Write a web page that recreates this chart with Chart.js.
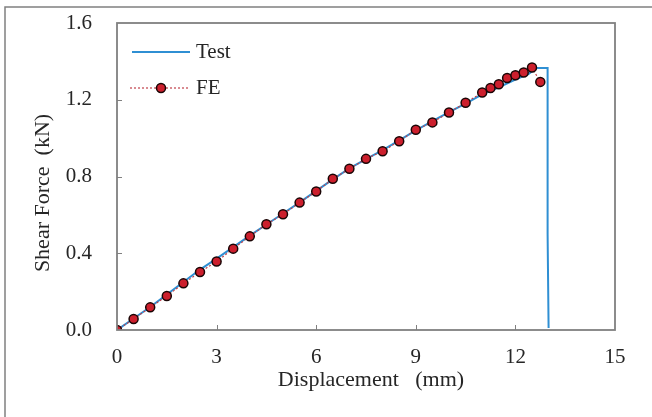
<!DOCTYPE html>
<html>
<head>
<meta charset="utf-8">
<script src="https://cdn.jsdelivr.net/npm/chart.js@4"></script>
<style>
  html, body { margin: 0; padding: 0; background: #fff; }
  #wrap { width: 652px; height: 417px; position: relative; }
</style>
</head>
<body>
<div id="wrap"><canvas id="shear"></canvas></div>
<script>
// ── Data: displacement (mm) vs shear force (kN) ──
var testX = [0, 0.5, 1, 1.5, 2, 2.5, 3, 3.5, 4, 4.5, 5, 5.5, 6, 6.5, 7, 7.5, 8, 8.5, 9, 9.5,
             10, 10.5, 11, 11.5, 12, 12.4, 12.65, 12.97, 12.97, 13.0];
var testY = [0, 0.06, 0.12, 0.185, 0.25, 0.315, 0.372, 0.432, 0.492, 0.55, 0.607, 0.665, 0.725,
             0.785, 0.842, 0.89, 0.938, 0.988, 1.04, 1.088, 1.135, 1.18, 1.228, 1.265, 1.305,
             1.335, 1.366, 1.366, 0.5, 0.01];

var feX = [0, 0.5, 1, 1.5, 2, 2.5, 3, 3.5, 4, 4.5, 5, 5.5, 6, 6.5, 7, 7.5, 8, 8.5, 9, 9.5,
           10, 10.5, 11, 11.25, 11.5, 11.75, 12, 12.25, 12.5, 12.75];
var feY = [0, 0.057, 0.118, 0.177, 0.243, 0.302, 0.357, 0.424, 0.488, 0.551, 0.603, 0.664,
           0.722, 0.788, 0.84, 0.892, 0.932, 0.984, 1.044, 1.082, 1.134, 1.184, 1.238, 1.261,
           1.281, 1.313, 1.328, 1.342, 1.368, 1.293];

var xTicks = [0, 3, 6, 9, 12, 15];
var yTicks = [0, 0.4, 0.8, 1.2, 1.6];

var FONT = '"Liberation Serif", "Times New Roman", serif';
var TEXT = '#262626';
var AXIS = '#808080';
var BLUE = '#2f8fd3';
var RED_LINE = '#c0404a';
var RED_DOT = '#cc1f2d';

function pairs(xs, ys) {
  return xs.map(function(x, i) { return { x: x, y: ys[i] }; });
}

// keep the plot box where the layout padding puts it
function noOverhang(s) {
  s.paddingTop = 0; s.paddingBottom = 0; s.paddingLeft = 0; s.paddingRight = 0;
}

// ── Frame, box, inward ticks, titles, legend ──
var decor = {
  id: 'decor',
  beforeDraw: function(chart) {
    var c = chart.ctx;
    c.save();
    c.strokeStyle = AXIS;
    c.lineWidth = 1.5;
    c.beginPath();
    c.moveTo(5, 417); c.lineTo(5, 7); c.lineTo(652, 7);
    c.stroke();
    c.restore();
  },
  afterDatasetsDraw: function(chart) {
    var c = chart.ctx, a = chart.chartArea;
    var xs = chart.scales.x, ys = chart.scales.y;
    c.save();
    c.strokeStyle = AXIS;
    c.lineWidth = 1.8;
    c.strokeRect(a.left, a.top, a.right - a.left, a.bottom - a.top);

    c.lineWidth = 1;
    xTicks.slice(1, -1).forEach(function(v) {
      var px = Math.round(xs.getPixelForValue(v)) + 0.5;
      c.beginPath(); c.moveTo(px, a.bottom); c.lineTo(px, a.bottom - 5); c.stroke();
    });
    yTicks.slice(1, -1).forEach(function(v) {
      var py = Math.round(ys.getPixelForValue(v)) + 0.5;
      c.beginPath(); c.moveTo(a.left, py); c.lineTo(a.left + 5, py); c.stroke();
    });

    // axis titles
    c.fillStyle = TEXT;
    c.font = '22px ' + FONT;
    c.textAlign = 'center';
    c.textBaseline = 'middle';
    c.fillText('Displacement   (mm)', 371, 380);
    c.save();
    c.translate(43, 193);
    c.rotate(-Math.PI / 2);
    c.fillText('Shear Force  (kN)', 0, 0);
    c.restore();

    // legend
    c.font = '21px ' + FONT;
    c.textAlign = 'left';
    c.strokeStyle = BLUE;
    c.lineWidth = 2;
    c.beginPath(); c.moveTo(132, 52); c.lineTo(190, 52); c.stroke();
    c.fillText('Test', 196, 52);

    c.strokeStyle = RED_LINE;
    c.lineWidth = 1.2;
    c.setLineDash([2, 2]);
    c.beginPath(); c.moveTo(130, 88); c.lineTo(190, 88); c.stroke();
    c.setLineDash([]);
    c.beginPath(); c.arc(161, 88, 4.5, 0, Math.PI * 2);
    c.fillStyle = RED_DOT; c.fill();
    c.lineWidth = 1.5; c.strokeStyle = '#1a0505'; c.stroke();
    c.fillStyle = TEXT;
    c.fillText('FE', 196, 88);
    c.restore();
  }
};

new Chart(document.getElementById('shear').getContext('2d'), {
  type: 'scatter',
  data: {
    datasets: [
      {
        label: 'Test', data: pairs(testX, testY), showLine: true, order: 2,
        borderColor: BLUE, borderWidth: 2, pointRadius: 0, tension: 0
      },
      {
        label: 'FE', data: pairs(feX, feY), showLine: true, order: 1,
        borderColor: RED_LINE, borderWidth: 1.2, borderDash: [2, 2],
        pointRadius: 4.5, pointBackgroundColor: RED_DOT,
        pointBorderColor: '#1a0505', pointBorderWidth: 1.5
      }
    ]
  },
  options: {
    responsive: true,
    maintainAspectRatio: false,
    animation: false,
    layout: { padding: { left: 0, top: 23, right: 37, bottom: 0 } },
    plugins: { legend: { display: false }, tooltip: { enabled: false } },
    scales: {
      x: {
        type: 'linear', min: 0, max: 15,
        afterBuildTicks: function(s) { s.ticks = xTicks.map(function(v) { return { value: v }; }); },
        afterFit: function(s) { s.height = 87; noOverhang(s); },
        grid: { display: false, drawTicks: false },
        border: { display: false },
        ticks: { color: TEXT, padding: 15, font: { family: FONT, size: 21 } }
      },
      y: {
        type: 'linear', min: 0, max: 1.6,
        afterBuildTicks: function(s) { s.ticks = yTicks.map(function(v) { return { value: v }; }); },
        afterFit: function(s) { s.width = 117; noOverhang(s); },
        grid: { display: false, drawTicks: false },
        border: { display: false },
        ticks: {
          color: TEXT, padding: 25, font: { family: FONT, size: 21 },
          callback: function(v) { return v.toFixed(1); }
        }
      }
    }
  },
  plugins: [decor]
});
</script>
</body>
</html>
